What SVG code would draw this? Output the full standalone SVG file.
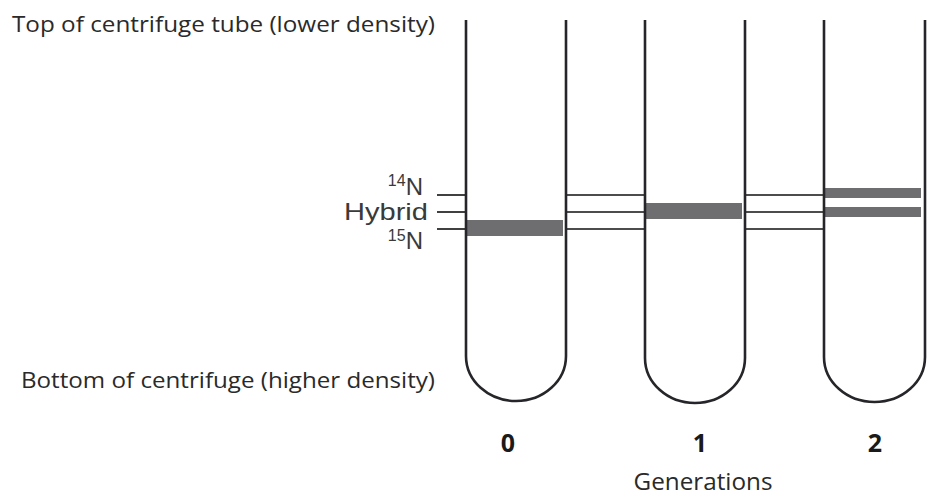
<svg xmlns="http://www.w3.org/2000/svg" width="940" height="504" viewBox="0 0 940 504">
<style>
.tube{fill:none;stroke:#26262a;stroke-width:2.6}
.band{fill:#6e6e70}
.lvl{stroke:#111;stroke-width:1.6}
.lbl{font-family:"Open Sans","Liberation Sans",sans-serif;fill:#2a2a2a}
.iso{font-family:"Liberation Sans",Arial,sans-serif;fill:#3a3a3a}
.num{font-family:"Open Sans","Liberation Sans",sans-serif;font-weight:bold;fill:#1a1a1a;font-size:25px;text-anchor:middle}
</style>
<rect width="940" height="504" fill="#fff"/>
<text class="lbl" x="12" y="32" font-size="21" textLength="423" lengthAdjust="spacingAndGlyphs">Top of centrifuge tube (lower density)</text>
<text class="lbl" x="21" y="388" font-size="21" textLength="414" lengthAdjust="spacingAndGlyphs">Bottom of centrifuge (higher density)</text>
<g id="labels">
<text class="iso" x="423" y="195" font-size="24" text-anchor="end"><tspan font-size="16" dy="-9">14</tspan><tspan dy="9">N</tspan></text>
<text class="iso" x="428" y="220" font-size="24" text-anchor="end" textLength="84" lengthAdjust="spacingAndGlyphs">Hybrid</text>
<text class="iso" x="423" y="249" font-size="24" text-anchor="end"><tspan font-size="16" dy="-8">15</tspan><tspan dy="8">N</tspan></text>
</g>
<g id="connectors">
<line class="lvl" x1="437" y1="195" x2="465" y2="195"/>
<line class="lvl" x1="437" y1="212" x2="465" y2="212"/>
<line class="lvl" x1="437" y1="229" x2="465" y2="229"/>
<line class="lvl" x1="567" y1="195" x2="645" y2="195"/>
<line class="lvl" x1="567" y1="212" x2="645" y2="212"/>
<line class="lvl" x1="567" y1="229" x2="645" y2="229"/>
<line class="lvl" x1="746" y1="195" x2="824" y2="195"/>
<line class="lvl" x1="746" y1="212" x2="824" y2="212"/>
<line class="lvl" x1="746" y1="229" x2="824" y2="229"/>
</g>
<g id="tube0">
<rect class="band" x="467" y="220" width="96" height="16"/>
<path class="tube" d="M466,20 V356 A50,45 0 0 0 566,356 V20"/>
</g>
<g id="tube1">
<rect class="band" x="646" y="203" width="96" height="16"/>
<path class="tube" d="M645,20 V358 A50,45 0 0 0 745,358 V20"/>
</g>
<g id="tube2">
<rect class="band" x="825" y="188" width="96" height="10"/>
<rect class="band" x="825" y="207" width="96" height="10"/>
<path class="tube" d="M824,20 V357 A50.5,45 0 0 0 925,357 V20"/>
</g>
<g id="generations">
<text class="num" x="508" y="452">0</text>
<text class="num" x="700" y="452">1</text>
<text class="num" x="875" y="452">2</text>
<text class="lbl" x="703" y="490" font-size="23" text-anchor="middle" textLength="139" lengthAdjust="spacingAndGlyphs">Generations</text>
</g>
</svg>
